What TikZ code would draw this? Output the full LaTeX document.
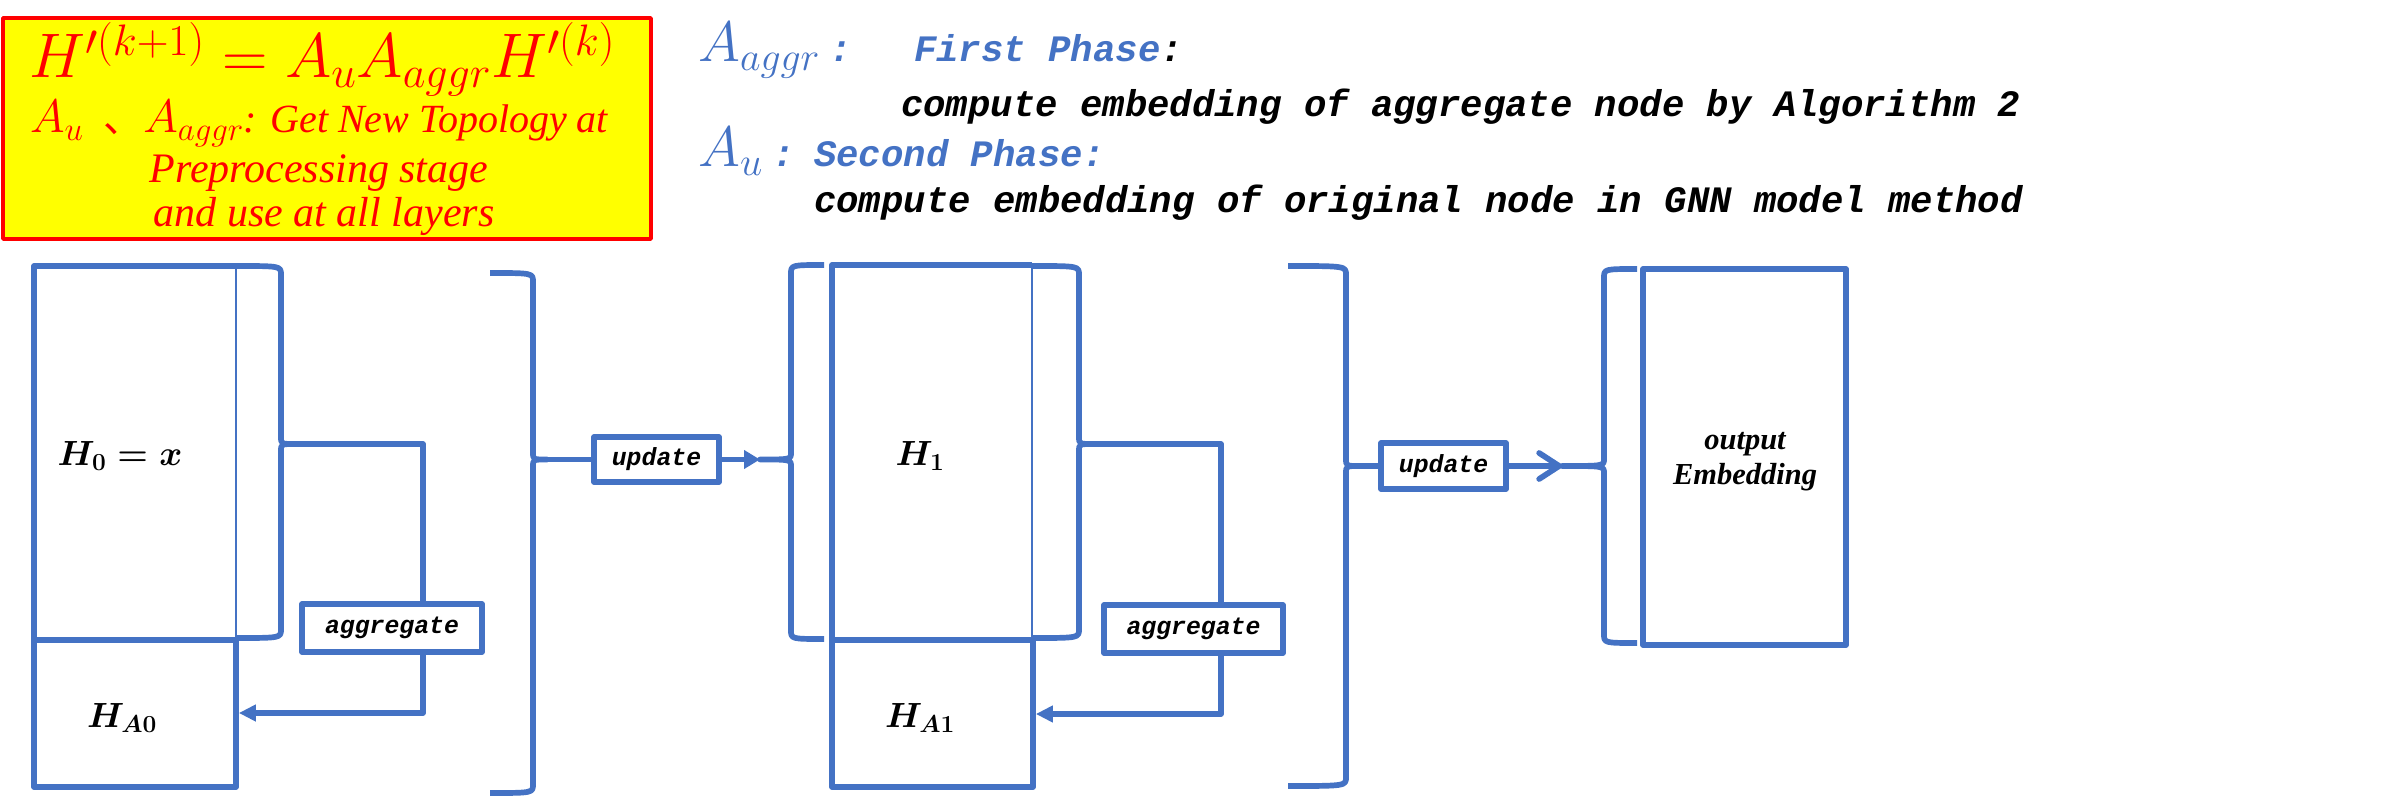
\RequirePackage{fix-cm}
\documentclass[tikz,border=0pt]{standalone}
\usepackage{amsmath}
\usepackage{bm}
\usepackage{fontspec}
\newfontfamily\cour{Liberation Mono}
\newfontfamily\tms{Liberation Serif}
\newfontfamily\cjk{Noto Sans CJK SC}
\usetikzlibrary{arrows.meta,calc}
\definecolor{pblue}{RGB}{68,114,196}
\definecolor{pred}{RGB}{255,0,0}
\definecolor{pyel}{RGB}{255,255,0}
% brace: #1 arm end x, #2 spine x, #3 top y, #4 bottom y, #5 tip y, #6 tip x
\newcommand\Brc[6]{\draw[bl] (#1,#3) .. controls (#2,#3) .. ({#2},{#3+9}) -- ({#2},{#5-7}) .. controls (#2,#5) .. (#6,#5) .. controls (#2,#5) .. ({#2},{#5+7}) -- ({#2},{#4-9}) .. controls (#2,#4) .. (#1,#4);}
\begin{document}
\begin{tikzpicture}[x=1pt,y=-1pt,line join=round,
  bl/.style={draw=pblue,line width=5.7pt},
  thinl/.style={draw=pblue,line width=2pt},
  frame/.style={inner sep=0pt,outer sep=0pt},
  cellbox/.style={draw=pblue,line width=5.7pt,inner sep=0pt},
  tag/.style={draw=pblue,line width=5.7pt,fill=white,inner sep=0pt,font=\cour\bfseries\itshape\fontsize{24.8}{26}\selectfont},
  mono/.style={inner sep=0pt,anchor=base west,font=\cour\bfseries\itshape\fontsize{37.3}{40}\selectfont},
  redtxt/.style={text=pred,anchor=base,inner sep=0pt},
  bluetxt/.style={text=pblue,anchor=base west,inner sep=0pt},
  lab/.style={anchor=base,inner sep=0pt,font=\fontsize{35}{37}\selectfont\boldmath},
  tri/.style={-{Triangle[length=17pt,width=16pt]}}
]
\fill[white] (0,0) rectangle (2390,799);
\useasboundingbox (0,0) rectangle (2390,799);

% ---------- note box ----------
\node[draw=pred,fill=pyel,line width=3.5pt,minimum width=648pt,minimum height=221pt,inner sep=0pt] (note) at (327,128.5) {};
\node[redtxt,font=\fontsize{63}{65}\selectfont] (form) at (322,78) {$H'^{(k+1)}=A_uA_{aggr}H'^{(k)}$};
\node[redtxt,font=\fontsize{40}{44}\selectfont\tms\itshape] (nl1) at (319,133) {{\fontsize{47}{49}\selectfont$A_u$}\ \ {\cjk\upshape 、}{\fontsize{47}{49}\selectfont$A_{aggr}$}: Get New Topology at};
\node[redtxt,font=\fontsize{42}{44}\selectfont\tms\itshape] (nl2) at (319,183) {Preprocessing stage};
\node[redtxt,font=\fontsize{42}{44}\selectfont\tms\itshape] (nl3) at (324,227) {and use at all layers};

% ---------- phase text ----------
\node[bluetxt,font=\fontsize{57}{59}\selectfont] (aagg) at (698,62) {$A_{aggr}$\,{\cour\bfseries\itshape\fontsize{37.3}{40}\selectfont :}};
\node[mono,text=pblue] (ph1) at (914,62) {First Phase\textcolor{black}{:}};
\node[mono] (ph1t) at (901,117) {compute embedding of aggregate node by Algorithm 2};
\node[bluetxt,font=\fontsize{57}{59}\selectfont] (au) at (698,167) {$A_u$\,{\cour\bfseries\itshape\fontsize{37.3}{40}\selectfont :}};
\node[mono,text=pblue] (ph2) at (814,167) {Second Phase:};
\node[mono] (ph2t) at (814,213) {compute embedding of original node in GNN model method};

% ---------- layer 0 ----------
\node[frame,minimum width=202pt,minimum height=374pt] (H0) at (135,453) {};
\draw[bl] (H0.north east) -- (H0.north west) -- (H0.south west);
\draw[thinl] (H0.north east) -- (H0.south east);
\node[cellbox,minimum width=202pt,minimum height=147pt] (HA0) at (135,713.5) {};
\node[lab] (tH0) at (120,465) {$H_0 = x$};
\node[lab] (tHA0) at (122,727) {$H_{A0}$};

\Brc{236}{281}{266}{638}{444}{296}
\coordinate (b1t) at (296,444);
\coordinate (c1) at (423,444);
\coordinate (a1) at (423,713);
\node[tag,minimum width=180pt,minimum height=48pt] (agg1) at (392,628) {aggregate};
\draw[bl] (b1t) -- (c1) -- (c1 |- agg1.north);
\draw[bl,tri] (c1 |- agg1.south) -- (a1) -- (a1 -| HA0.east);

\Brc{490}{533}{273}{793}{459.5}{547}
\coordinate (b2t) at (547,459.5);
\node[tag,minimum width=125pt,minimum height=45pt] (upd1) at (656.5,459.5) {update};
\draw[bl] (b2t) -- (upd1.west);
\coordinate (b3t) at (760,459.5);
\draw[bl,-{Triangle[length=16pt,width=18pt]}] (upd1.east) -- (b3t);
\Brc{824}{791}{265}{639}{459.5}{760}

% ---------- layer 1 ----------
\node[frame,minimum width=200pt,minimum height=375pt] (H1) at (932,452.5) {};
\draw[bl] (H1.north east) -- (H1.north west) -- (H1.south west);
\draw[thinl] (H1.north east) -- (H1.south east);
\node[cellbox,minimum width=201pt,minimum height=147pt] (HA1) at (932.5,713.5) {};
\node[lab] (tH1) at (920,465) {$H_1$};
\node[lab] (tHA1) at (920,727) {$H_{A1}$};

\Brc{1032}{1079}{266}{638}{444}{1094}
\coordinate (b4t) at (1094,444);
\coordinate (c2) at (1221,444);
\coordinate (a2) at (1221,714);
\node[tag,minimum width=179pt,minimum height=48pt] (agg2) at (1193.5,629) {aggregate};
\draw[bl] (b4t) -- (c2) -- (c2 |- agg2.north);
\draw[bl,tri] (c2 |- agg2.south) -- (a2) -- (a2 -| HA1.east);

\Brc{1288}{1346}{266}{786}{466}{1360}
\coordinate (b5t) at (1360,466);
\node[tag,minimum width=125pt,minimum height=46pt] (upd2) at (1443.5,466) {update};
\draw[bl] (b5t) -- (upd2.west);
\coordinate (b6t) at (1562,466);
\draw[bl,-{Straight Barb[length=20pt,width=26pt,round]}] (upd2.east) -- (b6t);
\Brc{1637}{1604}{269}{643}{466}{1562}

% ---------- output ----------
\node[cellbox,minimum width=203pt,minimum height=376pt] (out) at (1744.5,457) {};
\node[align=center,inner sep=0pt,font=\fontsize{30.5}{35}\selectfont\tms\bfseries\itshape] (tout) at (1745,462) {output\\Embedding};
\end{tikzpicture}
\end{document}
